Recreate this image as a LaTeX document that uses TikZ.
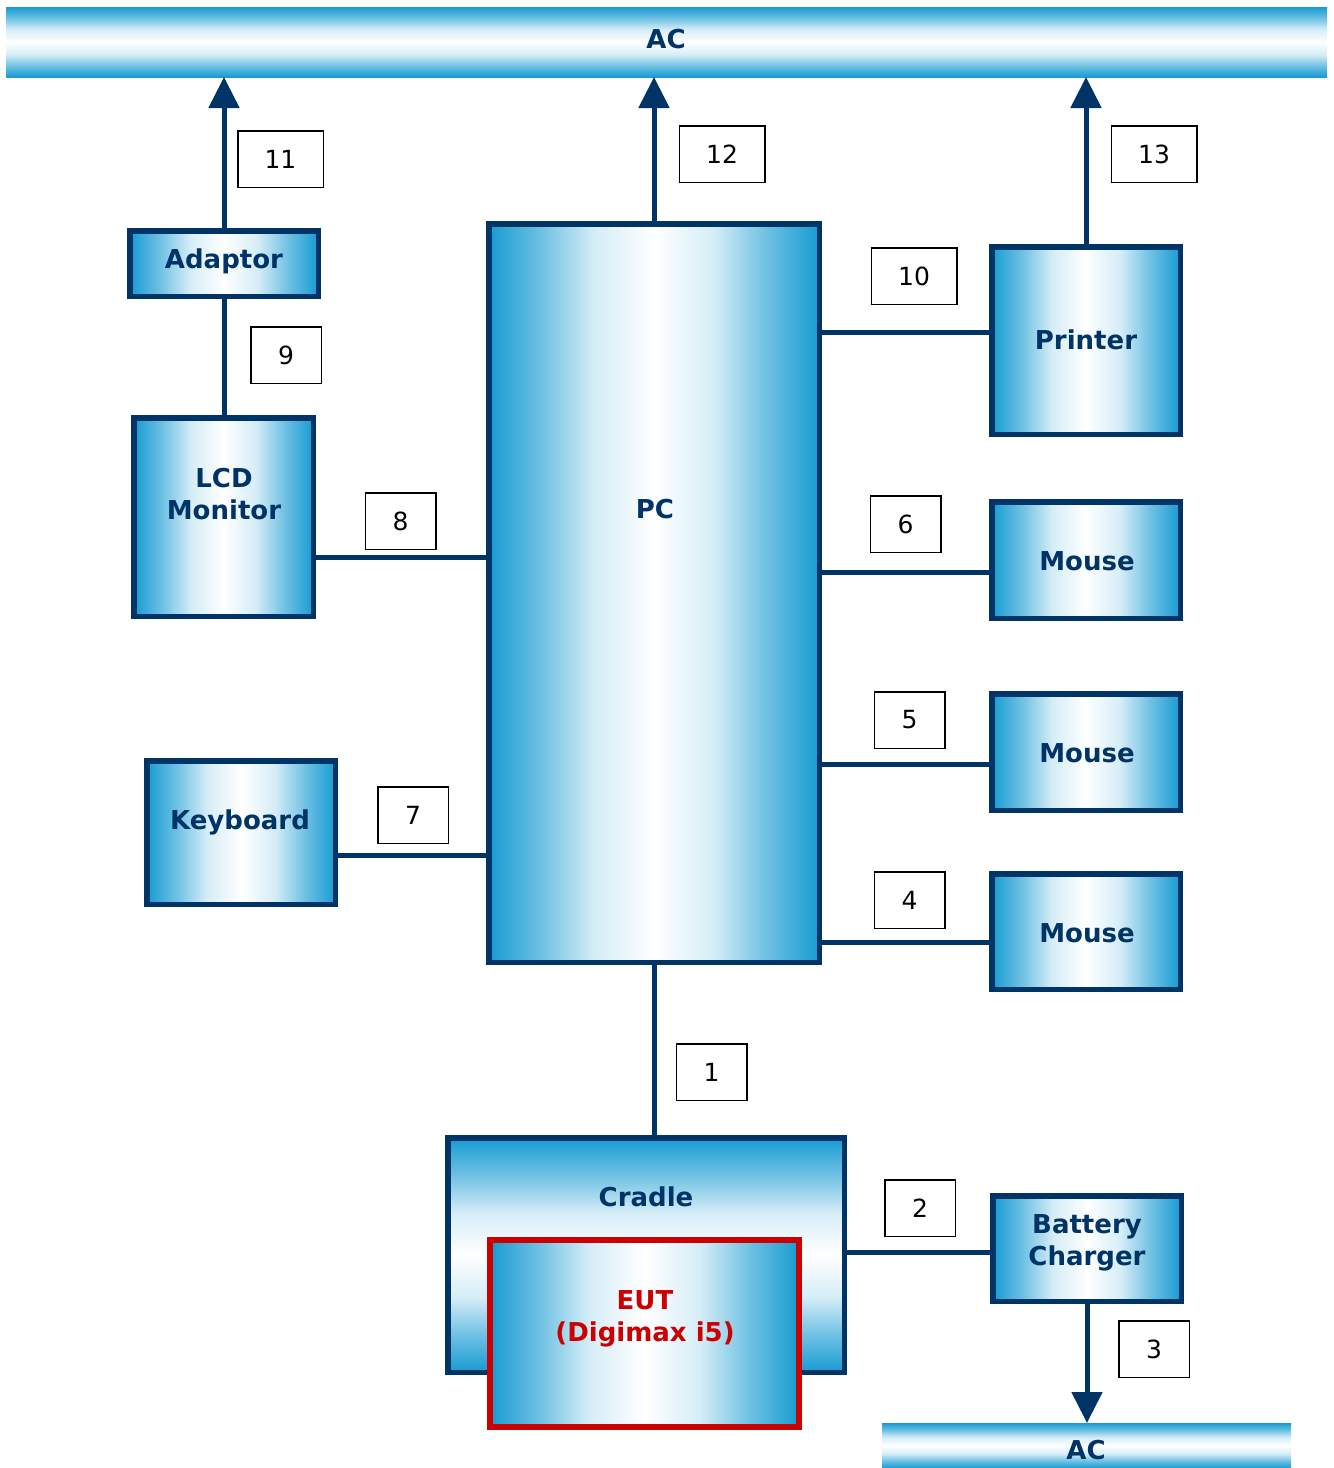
\documentclass[tikz,border=0pt]{standalone}
\usepackage{fontspec}
\setmainfont{DejaVu Sans}
\usetikzlibrary{arrows.meta}
\definecolor{navy}{RGB}{0,51,102}
\definecolor{cblue}{RGB}{22,155,210}
\definecolor{eutred}{RGB}{204,0,0}
\pgfdeclarehorizontalshading{hgrad}{100bp}{color(0bp)=(cblue); color(25bp)=(cblue); color(33bp)=(cblue!62); color(41bp)=(cblue!18); color(50bp)=(white); color(59bp)=(cblue!18); color(67bp)=(cblue!62); color(75bp)=(cblue); color(100bp)=(cblue)}
\pgfdeclareverticalshading{vgrad}{100bp}{color(0bp)=(cblue); color(25bp)=(cblue); color(33bp)=(cblue!62); color(41bp)=(cblue!18); color(50bp)=(white); color(59bp)=(cblue!18); color(67bp)=(cblue!62); color(75bp)=(cblue); color(100bp)=(cblue)}
\begin{document}
\begin{tikzpicture}[x=1pt,y=-1pt,
  hbox/.style={draw=navy, line width=5.5pt, shade, shading=hgrad, inner sep=0pt, outer sep=0pt},
  vbox/.style={draw=navy, line width=5.5pt, shade, shading=vgrad, inner sep=0pt, outer sep=0pt},
  eutbox/.style={draw=eutred, line width=6pt, shade, shading=hgrad, inner sep=0pt, outer sep=0pt},
  bar/.style={draw=none, shade, shading=vgrad, inner sep=0pt, outer sep=0pt},
  lbl/.style={font=\fontsize{26}{32}\selectfont\bfseries, text=navy, anchor=base, inner sep=0pt},
  eutlbl/.style={lbl, text=eutred},
  num/.style={draw=black, line width=1.5pt, minimum height=56.5pt, font=\fontsize{25}{30}\selectfont, inner sep=0pt},
  num2/.style={num, minimum width=85.5pt},
  num1/.style={num, minimum width=70.5pt},
  conn/.style={draw=navy, line width=5pt},
  arr/.style={conn, -{Triangle[width=30pt,length=31pt]}}
]
\useasboundingbox (0,0) rectangle (1334,1468);

% AC bars
\node[bar, minimum width=1321pt, minimum height=70pt] (acTop) at (666.5,42) {};
\node[bar, minimum width=409pt, minimum height=45pt] (acBot) at (1086.5,1445.5) {};
\node[lbl] (acTopT) at (666,48) {AC};
\node[lbl] (acBotT) at (1086,1459) {AC};

% boxes
\node[hbox, minimum width=188.5pt, minimum height=65.5pt] (adaptor) at (224,263.5) {};
\node[hbox, minimum width=179.5pt, minimum height=198.5pt] (lcd) at (223.5,517) {};
\node[hbox, minimum width=330.5pt, minimum height=738.5pt] (pc) at (654,593) {};
\node[hbox, minimum width=188.5pt, minimum height=187.5pt] (printer) at (1086,340.5) {};
\node[hbox, minimum width=188.5pt, minimum height=116.5pt] (mouseA) at (1086,560) {};
\node[hbox, minimum width=188.5pt, minimum height=116.5pt] (mouseB) at (1086,752) {};
\node[hbox, minimum width=188.5pt, minimum height=115.5pt] (mouseC) at (1086,931.5) {};
\node[hbox, minimum width=188.5pt, minimum height=143.5pt] (keyboard) at (241,832.5) {};
\node[vbox, minimum width=396.5pt, minimum height=234.5pt] (cradle) at (646,1255) {};
\node[eutbox, minimum width=309pt, minimum height=187pt] (eut) at (644.5,1333.5) {};
\node[hbox, minimum width=188.5pt, minimum height=105.5pt] (charger) at (1087,1248.5) {};

% box texts
\node[lbl] (adaptorT) at (224,268) {Adaptor};
\node[lbl] (lcdT1) at (224,487) {LCD};
\node[lbl] (lcdT2) at (224,519) {Monitor};
\node[lbl] (pcT) at (655,518) {PC};
\node[lbl] (printerT) at (1086,349) {Printer};
\node[lbl] (mouseAT) at (1087,570) {Mouse};
\node[lbl] (mouseBT) at (1087,762) {Mouse};
\node[lbl] (mouseCT) at (1087,942) {Mouse};
\node[lbl] (keyboardT) at (240,829) {Keyboard};
\node[lbl] (cradleT) at (646,1206) {Cradle};
\node[eutlbl] (eutT1) at (645,1309) {EUT};
\node[eutlbl] (eutT2) at (645,1341) {(Digimax i5)};
\node[lbl] (chargerT1) at (1087,1233) {Battery};
\node[lbl] (chargerT2) at (1087,1265) {Charger};

% connectors
\draw[arr] (adaptor.north) -- (adaptor.north |- acTop.south);
\draw[conn] (adaptor.south) -- (adaptor.south |- lcd.north);
\draw[arr] (pc.north) -- (pc.north |- acTop.south);
\draw[arr] (printer.north) -- (printer.north |- acTop.south);
\draw[conn] (pc.east |- 0,332) -- (printer.west |- 0,332);
\draw[conn] (pc.east |- 0,572) -- (mouseA.west |- 0,572);
\draw[conn] (pc.east |- 0,764) -- (mouseB.west |- 0,764);
\draw[conn] (pc.east |- 0,942) -- (mouseC.west |- 0,942);
\draw[conn] (lcd.east |- 0,557) -- (pc.west |- 0,557);
\draw[conn] (keyboard.east |- 0,855) -- (pc.west |- 0,855);
\draw[conn] (pc.south) -- (pc.south |- cradle.north);
\draw[conn] (cradle.east |- 0,1252) -- (charger.west |- 0,1252);
\draw[arr] (charger.south) -- (charger.south |- acBot.north);

% number labels
\node[num2] (n11) at (280.5,159) {11};
\node[num1] (n9) at (286,355) {9};
\node[num2] (n12) at (722,154) {12};
\node[num2] (n13) at (1154,154) {13};
\node[num2] (n10) at (914,276) {10};
\node[num1] (n6) at (905.5,524) {6};
\node[num1] (n5) at (909.5,720) {5};
\node[num1] (n4) at (909.5,900) {4};
\node[num1] (n8) at (400.5,521) {8};
\node[num1] (n7) at (413,815) {7};
\node[num1] (n1) at (711.5,1072) {1};
\node[num1] (n2) at (920,1208) {2};
\node[num1] (n3) at (1154,1349) {3};
\end{tikzpicture}
\end{document}
